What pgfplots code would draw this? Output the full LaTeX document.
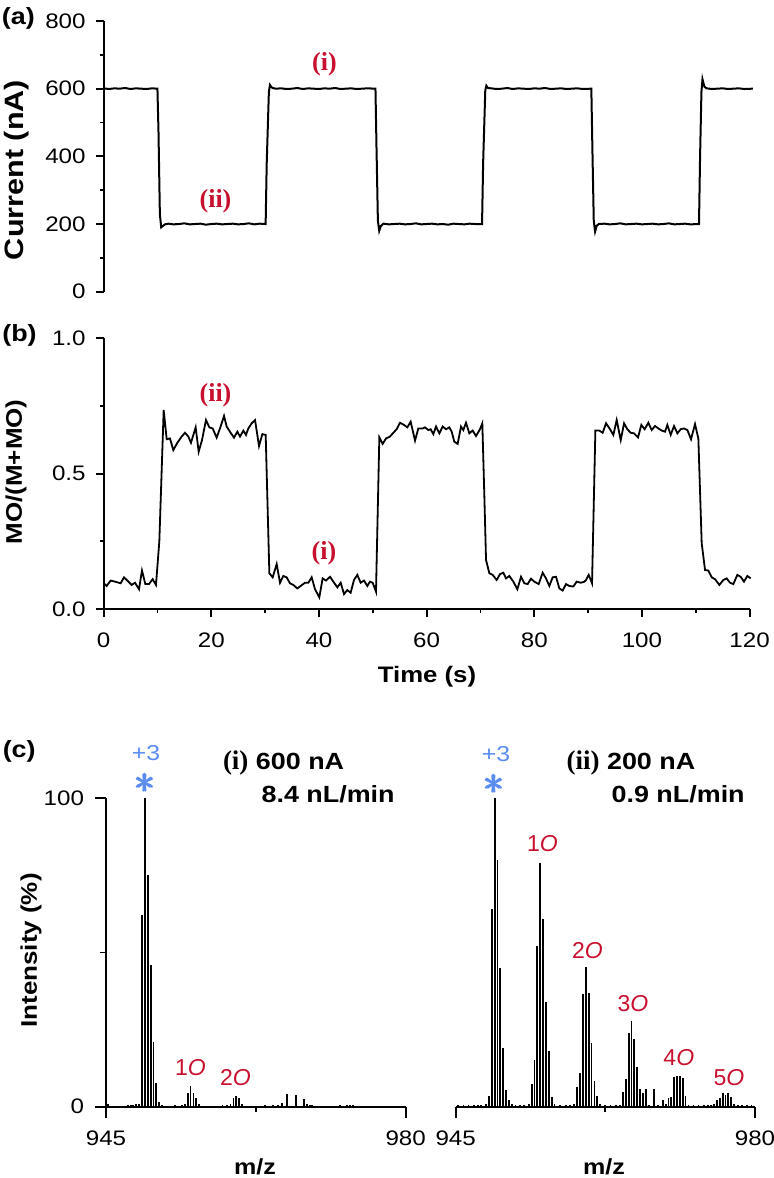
\documentclass[border=0pt]{standalone}
\usepackage{amsmath}
\usepackage{fontspec}
\setmainfont{Liberation Sans}[FakeStretch=1.15]
\newfontfamily\plainsans{Liberation Sans}
\newfontfamily\timesf{Liberation Serif}
\usepackage{pgfplots}
\pgfplotsset{compat=1.18}
\definecolor{myred}{RGB}{200,16,46}
\definecolor{myblue}{RGB}{90,140,240}
\pgfplotsset{
  base/.style={scale only axis, clip=false, tick align=outside,
    axis line style={line width=0.9pt},
    major tick style={line width=0.9pt, black},
    minor tick style={line width=0.9pt, black},
    major tick length=4pt, minor tick length=2pt,
    xticklabels={}, yticklabels={}},
}
\newcommand{\tl}{\fontsize{10.5}{12}\selectfont}
\tikzset{ytl/.style={anchor=east, inner sep=0pt, font=\tl},
         xtl/.style={anchor=center, inner sep=0pt, font=\tl}}
\newcommand{\ann}{\fontsize{11.7}{14}\selectfont}
\newcommand{\oxl}[1]{\textcolor{myred}{\plainsans\fontsize{11.5}{13}\selectfont #1\textit{O}}}
\begin{document}
\begin{tikzpicture}
\path[use as bounding box] (0pt,0pt) rectangle (387pt,589pt);

% ---------------- (a)
\begin{axis}[base, at={(51.8pt,443.15pt)}, anchor=south west,
  width=323pt, height=135.35pt,
  xmin=0, xmax=120, ymin=0, ymax=800,
  hide x axis, axis y line*=left,
  ytick={0,200,400,600,800}, minor ytick={100,300,500,700}]
\addplot[black, line width=1pt] coordinates {
(0,601) (1,599) (2,601) (3,600) (4,602) (5,599) (6,601) (7,600) (8,599) (9,601) (10.0,600)
(10.2,470) (10.45,230) (10.7,190) (11.0,194) (11.4,199)
(12,201) (13,199) (14,200) (15,202) (16,199) (17,200) (18,201) (19,198) (20,200) (21,201)
(22,199) (23,200) (24,201) (25,199) (26,200) (27,202) (28,199) (29,201) (30.1,200)
(30.3,380) (30.7,590) (30.9,611) (31.2,604) (31.6,601)
(32,600) (33,601) (34,599) (35,600) (36,602) (37,599) (38,601) (39,600) (40,599) (41,601)
(42,600) (43,602) (44,599) (45,600) (46,601) (47,599) (48,600) (49,601) (50.5,600)
(50.7,420) (50.95,210) (51.2,180) (51.5,194) (51.9,200)
(52,201) (53,199) (54,200) (55,201) (56,199) (57,200) (58,202) (59,199) (60,200) (61,201)
(62,199) (63,200) (64,198) (65,201) (66,200) (67,199) (68,201) (69,200) (70.3,200)
(70.5,380) (70.9,595) (71.1,609) (71.4,602)
(72,601) (73,599) (74,600) (75,602) (76,599) (77,601) (78,600) (79,599) (80,601) (81,600)
(82,602) (83,599) (84,600) (85,601) (86,599) (87,600) (88,601) (89,599) (90.6,600)
(90.8,420) (91.05,210) (91.3,178) (91.6,195)
(92,200) (93,201) (94,199) (95,200) (96,202) (97,199) (98,200) (99,201) (100,199) (101,200)
(102,201) (103,199) (104,200) (105,202) (106,199) (107,200) (108,201) (109,199) (110.6,200)
(110.8,400) (111.05,590) (111.25,628) (111.6,606)
(112,601) (113,599) (114,600) (115,601) (116,599) (117,600) (118,601) (119,599) (120.6,600)
};
\node[ytl, xshift=-8.8pt] at (axis cs:0,0) {0};
\node[ytl, xshift=-8.8pt] at (axis cs:0,200) {200};
\node[ytl, xshift=-8.8pt] at (axis cs:0,400) {400};
\node[ytl, xshift=-8.8pt] at (axis cs:0,600) {600};
\node[ytl, xshift=-8.8pt] at (axis cs:0,800) {800};
\end{axis}

% ---------------- (b)
\begin{axis}[base, at={(51.8pt,284.5pt)}, anchor=south west,
  width=323pt, height=135.35pt,
  xmin=0, xmax=120, ymin=0, ymax=1,
  axis x line*=bottom, axis y line*=left,
  xtick={0,20,...,120}, minor xtick={10,30,...,110},
  ytick={0,0.5,1}, minor ytick={0.25,0.75}]
\addplot[black, line width=0.9pt] coordinates {
(0.07,0.095) (0.57,0.085) (1.31,0.105) (2.12,0.101) (3.17,0.095) (3.79,0.117) (4.41,0.105)
(5.21,0.089) (5.83,0.097) (6.58,0.073) (7.13,0.142) (7.75,0.092) (8.43,0.092) (9.11,0.110)
(9.73,0.089) (10.35,0.249) (11.16,0.735) (11.72,0.627) (12.33,0.630) (12.95,0.587) (13.70,0.614)
(14.50,0.637) (15.12,0.651) (15.74,0.637) (16.23,0.614) (17.10,0.671) (17.66,0.581) (18.28,0.624)
(19.02,0.698) (19.64,0.671) (20.26,0.667) (21.00,0.633) (21.62,0.667) (22.37,0.713) (22.86,0.674)
(23.60,0.651) (24.22,0.633) (24.84,0.655) (25.34,0.637) (25.96,0.659) (26.45,0.643) (26.89,0.667)
(27.51,0.686) (28.13,0.698) (28.87,0.602) (29.49,0.646) (30.11,0.643) (30.79,0.132) (31.41,0.117)
(32.15,0.166) (32.77,0.097) (33.38,0.122) (34.00,0.117) (34.62,0.095) (35.24,0.089) (35.99,0.076)
(36.61,0.085) (37.41,0.097) (38.03,0.097) (38.65,0.117) (39.27,0.073) (40.07,0.043) (40.69,0.113)
(41.31,0.105) (42.06,0.119) (42.67,0.101) (43.42,0.080) (44.04,0.097) (44.66,0.055) (45.27,0.070)
(45.89,0.060) (46.51,0.107) (47.13,0.126) (47.75,0.097) (48.37,0.105) (48.99,0.085) (49.48,0.101)
(49.98,0.097) (50.60,0.064) (51.22,0.634) (51.84,0.610) (52.46,0.630) (53.20,0.637) (53.82,0.651)
(54.44,0.664) (55.06,0.688) (55.80,0.680) (56.42,0.671) (57.04,0.692) (57.85,0.622) (58.46,0.667)
(59.27,0.667) (59.70,0.671) (60.32,0.661) (60.75,0.664) (61.25,0.646) (61.75,0.674) (62.37,0.649)
(62.99,0.674) (63.61,0.664) (64.22,0.671) (64.66,0.655) (65.15,0.618) (65.77,0.610) (66.39,0.674)
(66.82,0.661) (67.32,0.688) (67.94,0.649) (68.55,0.659) (69.18,0.639) (69.91,0.664) (70.35,0.686)
(70.73,0.415) (71.04,0.181) (71.65,0.132) (72.27,0.126) (73.02,0.107) (73.64,0.129) (74.26,0.134)
(74.75,0.113) (75.37,0.122) (76.11,0.101) (76.86,0.073) (77.54,0.119) (78.16,0.095) (78.77,0.092)
(79.39,0.112) (80.01,0.101) (80.82,0.092) (81.56,0.134) (82.18,0.113) (82.80,0.085) (83.42,0.117)
(84.04,0.119) (84.66,0.076) (85.27,0.068) (85.89,0.092) (86.51,0.085) (87.26,0.083) (87.88,0.101)
(88.62,0.097) (89.24,0.100) (89.62,0.107) (90.11,0.126) (90.73,0.095) (91.35,0.659) (92.09,0.659)
(92.71,0.651) (93.33,0.686) (94.07,0.664) (94.69,0.643) (95.31,0.698) (96.06,0.624) (96.68,0.686)
(97.29,0.664) (97.91,0.651) (98.53,0.649) (99.28,0.634) (99.89,0.680) (100.51,0.664) (101.19,0.688)
(101.81,0.661) (102.43,0.676) (103.05,0.667) (103.67,0.659) (104.29,0.655) (104.72,0.680) (105.34,0.643)
(105.96,0.676) (106.58,0.649) (107.20,0.664) (107.82,0.667) (108.44,0.661) (109.12,0.627) (109.86,0.683)
(110.48,0.630) (111.10,0.243) (111.72,0.144) (112.34,0.142) (112.96,0.117) (113.58,0.110) (114.38,0.089)
(115.12,0.107) (115.74,0.113) (116.36,0.097) (116.98,0.092) (117.72,0.126) (118.34,0.119) (118.96,0.101)
(119.58,0.122) (120.20,0.113)
};
\node[ytl, xshift=-8.8pt] at (axis cs:0,0) {0.0};
\node[ytl, xshift=-8.8pt] at (axis cs:0,0.5) {0.5};
\node[ytl, xshift=-8.8pt] at (axis cs:0,1) {1.0};
\node[xtl, yshift=-15.5pt] at (axis cs:0,0) {0};
\node[xtl, yshift=-15.5pt] at (axis cs:20,0) {20};
\node[xtl, yshift=-15.5pt] at (axis cs:40,0) {40};
\node[xtl, yshift=-15.5pt] at (axis cs:60,0) {60};
\node[xtl, yshift=-15.5pt] at (axis cs:80,0) {80};
\node[xtl, yshift=-15.5pt] at (axis cs:100,0) {100};
\node[xtl, yshift=-15.5pt] at (axis cs:120,0) {120};
\end{axis}

% ---------------- (c) left
\begin{axis}[base, at={(53pt,35.65pt)}, anchor=south west,
  width=149.85pt, height=154.2pt,
  xmin=945, xmax=980, ymin=0, ymax=100,
  axis x line*=bottom, axis y line*=left,
  major tick length=5.5pt, minor tick length=2.75pt,
  xtick={945,980}, minor xtick={962.5},
  ytick={0,100}, minor ytick={50}]
\addplot[ycomb, black, line width=0.9pt] coordinates {
(945.27,0.8) (947.53,0.4) (947.88,0.5) (948.19,0.6) (948.50,0.8)
(948.88,1.0) (949.22,62) (949.55,100) (949.88,75) (950.22,46) (950.55,21) (950.88,7.6) (951.22,1.4) (951.55,0.4)
(952.2,0.3) (953.1,0.4)
(953.88,0.4) (954.22,1.0) (954.55,4.3) (954.88,6.7) (955.22,4.5) (955.55,2.7) (955.88,0.9) (956.22,0.3)
(957.4,0.3) (958.6,0.4) (959.09,0.5)
(959.55,1.0) (959.88,2.7) (960.22,3.5) (960.55,2.7) (960.88,0.8) (961.22,0.3)
(962.5,0.3) (963.6,0.4) (964.54,0.4) (965.12,0.6) (965.51,1.2)
(966.18,4.1) (967.19,3.8) (968.16,2.5) (968.51,0.8) (968.82,0.6) (969.1,0.4)
(970.2,0.3) (971.4,0.3) (972.3,0.4) (973.10,0.6) (973.49,0.5) (973.88,0.4) (975.0,0.3) (976.4,0.3) (977.5,0.3) (978.8,0.3)
};
\node[ytl, xshift=-10.8pt] at (axis cs:945,0) {0};
\node[ytl, xshift=-10.8pt] at (axis cs:945,100) {100};
\node[xtl, yshift=-15.8pt] at (axis cs:945,0) {945};
\node[xtl, yshift=-15.8pt] at (axis cs:980,0) {980};
\end{axis}

% ---------------- (c) right
\begin{axis}[base, at={(227.85pt,35.65pt)}, anchor=south west,
  width=149.65pt, height=154.2pt,
  xmin=945, xmax=980, ymin=0, ymax=100,
  axis x line*=bottom, hide y axis,
  major tick length=5.5pt, minor tick length=2.75pt,
  xtick={945,980}, minor xtick={962.5}]
\addplot[ycomb, black, line width=0.9pt] coordinates {
(945.3,0.6) (945.9,0.4) (946.5,0.5) (947.1,0.4) (947.6,0.5) (948.0,0.6)
(948.55,1.0) (948.88,3.6) (949.22,64) (949.55,100) (949.88,80) (950.22,45) (950.55,19) (950.88,5.4) (951.22,2.2) (951.55,0.8)
(952.0,0.5) (952.5,0.6) (953.0,0.5)
(953.55,1.0) (953.88,7.2) (954.22,15) (954.55,52) (954.88,79) (955.22,61) (955.55,34) (955.88,18) (956.22,3.0) (956.55,1.0)
(957.2,0.5) (957.9,0.6) (958.4,0.5)
(958.88,1.0) (959.22,6.5) (959.55,11) (959.88,36.5) (960.22,45.4) (960.55,37) (960.88,20.5) (961.22,8.4) (961.55,3.5) (961.88,0.8)
(962.5,0.5) (963.1,0.4) (963.7,0.5) (964.2,0.6)
(964.55,4.9) (964.88,8.9) (965.22,23.8) (965.55,27.9) (965.88,21.8) (966.22,13) (966.55,5.6) (966.88,4.3) (967.22,5.9)
(967.6,0.6) (968.22,5.9) (968.7,0.5) (969.22,2.2) (969.55,0.8) (969.88,2.7)
(970.22,3.0) (970.55,9.7) (970.88,10) (971.22,10) (971.55,9.2) (971.88,3.5) (972.22,0.6)
(972.8,0.5) (973.4,0.6) (974.0,0.5) (974.5,0.5) (974.9,0.6)
(975.22,1.0) (975.55,2.2) (975.88,2.7) (976.22,4.3) (976.55,3.9) (976.88,4.3) (977.22,3.0) (977.55,1.0)
(978.0,0.5) (978.5,0.5) (979.1,0.5) (979.6,0.4)
};
\node[xtl, yshift=-15.8pt] at (axis cs:945,0) {945};
\node[xtl, yshift=-15.8pt] at (axis cs:980,0) {980};
\end{axis}

% ---------------- text
\begin{scope}[every node/.style={inner sep=0pt, outer sep=0pt}]
\node[font=\bfseries\fontsize{11.7}{14}\selectfont] at (9.2pt,579.8pt) {(a)};
\node[font=\bfseries\fontsize{11.7}{14}\selectfont] at (9.75pt,421.5pt) {(b)};
\node[font=\bfseries\fontsize{11.7}{14}\selectfont] at (9.6pt,213.2pt) {(c)};
\node[rotate=90, font=\bfseries\fontsize{13.3}{15}\selectfont] at (8.5pt,504pt) {Current (nA)};
\node[rotate=90, font=\bfseries\fontsize{11.3}{13}\selectfont] at (8pt,353pt) {MO/(M+MO)};
\node[font=\bfseries\fontsize{11.2}{13}\selectfont] at (213.5pt,250.5pt) {Time (s)};
\node[rotate=90, font=\bfseries\fontsize{11.3}{13}\selectfont] at (15.5pt,113.75pt) {Intensity (\%)};
\node[font=\bfseries\fontsize{10.9}{13}\selectfont] at (127.5pt,5.5pt) {m/z};
\node[font=\bfseries\fontsize{10.9}{13}\selectfont] at (302pt,5.5pt) {m/z};
\node[text=myred, font=\timesf\bfseries\fontsize{13}{15}\selectfont] at (162.25pt,557pt) {(i)};
\node[text=myred, font=\timesf\bfseries\fontsize{13}{15}\selectfont] at (107.75pt,488.5pt) {(ii)};
\node[text=myred, font=\timesf\bfseries\fontsize{13}{15}\selectfont] at (107.75pt,391.5pt) {(ii)};
\node[text=myred, font=\timesf\bfseries\fontsize{13}{15}\selectfont] at (162pt,312.25pt) {(i)};
\node[text=myblue, font=\fontsize{10.8}{12}\selectfont] at (73pt,212.4pt) {+3};
\node[text=myblue, font=\fontsize{20}{20}\selectfont] at (72.75pt,197.2pt) {$\pmb{\ast}$};
\node[text=myblue, font=\fontsize{10.8}{12}\selectfont] at (248pt,212pt) {+3};
\node[text=myblue, font=\fontsize{20}{20}\selectfont] at (247.5pt,197pt) {$\pmb{\ast}$};
\node[anchor=west, font=\ann] at (111.5pt,207.5pt) {{\timesf\bfseries\fontsize{13.5}{15}\selectfont (i)} \bfseries 600 nA};
\node[anchor=west, font=\ann\bfseries] at (130.8pt,192pt) {8.4 nL/min};
\node[anchor=west, font=\ann] at (283.3pt,207.5pt) {{\timesf\bfseries\fontsize{13.5}{15}\selectfont (ii)} \bfseries 200 nA};
\node[anchor=west, font=\ann\bfseries] at (305.8pt,192pt) {0.9 nL/min};
\node at (95.25pt,55.25pt) {\oxl{1}};
\node at (117.75pt,50.25pt) {\oxl{2}};
\node at (271.25pt,167.35pt) {\oxl{1}};
\node at (293.75pt,113.75pt) {\oxl{2}};
\node at (316.5pt,87.1pt) {\oxl{3}};
\node at (339.4pt,60.35pt) {\oxl{4}};
\node at (364.5pt,50.25pt) {\oxl{5}};
\end{scope}
\end{tikzpicture}
\end{document}
